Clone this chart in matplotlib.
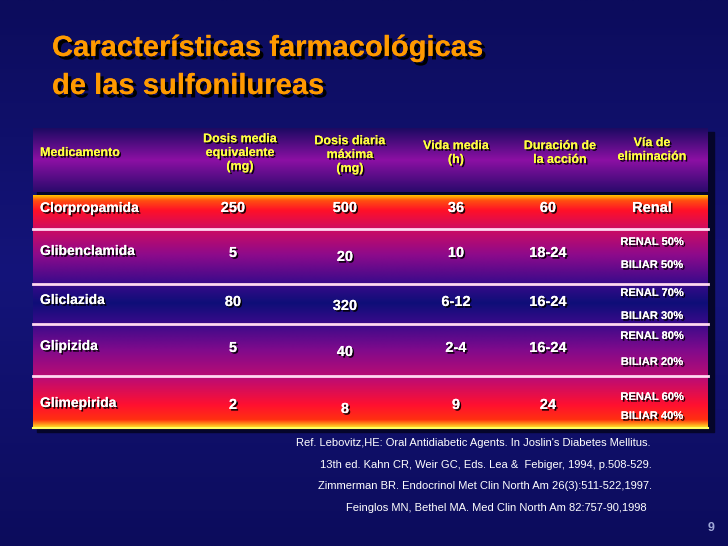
import numpy as np
import matplotlib
matplotlib.use("Agg")
import matplotlib.pyplot as plt
import matplotlib.patheffects as pe
from matplotlib.colors import to_rgb

title_lines = ["Características farmacológicas", "de las sulfonilureas"]
headers = ["Medicamento", "Dosis media\nequivalente\n(mg)", "Dosis diaria\nmáxima\n(mg)",
           "Vida media\n(h)", "Duración de\nla acción", "Vía de\neliminación"]
drugs = ["Clorpropamida", "Glibenclamida", "Gliclazida", "Glipizida", "Glimepirida"]
dose_equiv = ["250", "5", "80", "5", "2"]
dose_max = ["500", "20", "320", "40", "8"]
half_life = ["36", "10", "6-12", "2-4", "9"]
duration = ["60", "18-24", "16-24", "16-24", "24"]
elim_renal = ["Renal", "RENAL 50%", "RENAL 70%", "RENAL 80%", "RENAL 60%"]
elim_biliar = ["", "BILIAR 50%", "BILIAR 30%", "BILIAR 20%", "BILIAR 40%"]
refs = ["Ref. Lebovitz,HE: Oral Antidiabetic Agents. In Joslin's Diabetes Mellitus.",
        "13th ed. Kahn CR, Weir GC, Eds. Lea &  Febiger, 1994, p.508-529.",
        "Zimmerman BR. Endocrinol Met Clin North Am 26(3):511-522,1997.",
        "Feinglos MN, Bethel MA. Med Clin North Am 82:757-90,1998"]

W, H = 728, 546
fig = plt.figure(figsize=(W/100, H/100), dpi=100)
ax = fig.add_axes([0, 0, 1, 1])
ax.set_xlim(0, W); ax.set_ylim(H, 0); ax.axis("off")

def vgrad(stops, x0, x1, y0, y1, z=0):
    ys = np.linspace(y0, y1, 300)
    pos = np.array([s[0] for s in stops]); cols = np.array([to_rgb(s[1]) for s in stops])
    img = np.stack([np.interp(ys, pos, cols[:, k]) for k in range(3)], axis=1)
    img = np.repeat(img[:, None, :], 2, axis=1)
    ax.imshow(img, extent=(x0, x1, y1, y0), aspect="auto", zorder=z, interpolation="bilinear")

vgrad([(0, "#0c0c5c"), (273, "#14147a"), (546, "#0c0c5c")], 0, W, 0, H, z=0)

ax.add_patch(plt.Rectangle((37, 132), 677, 300, color="#05052a", zorder=1))
vgrad([(128, "#1c0a62"), (160, "#8c10a4"), (192, "#2a0a6c")], 33, 708, 128, 192, z=2)
vgrad([(195, "#ffc000"), (200, "#ff5010"), (210, "#ff1028"), (228, "#d00c60"),
       (255, "#8c0a8c"), (283, "#3a0a8a"), (303, "#0e0e78"), (324, "#3a0a8a"),
       (350, "#800a8c"), (380, "#c00c70"), (405, "#ff1030"), (420, "#ff3010"),
       (427, "#ffd020")], 33, 708, 195, 428, z=2)
for yy in [229, 284, 324, 376]:
    ax.plot([33, 708], [yy, yy], color="#ffd8f0", lw=2, zorder=3)
ax.plot([33, 708], [428, 428], color="#ffff60", lw=1.5, zorder=3)

sh = [pe.withSimplePatchShadow(offset=(1.2, -1.2), shadow_rgbFace="black", alpha=0.9), pe.Normal()]
font = "Liberation Sans"

for i, t in enumerate(title_lines):
    ax.text(52, 48 + i*38, t, color="#ff9a00", fontsize=21, fontweight="bold",
            family=font, va="center", ha="left", zorder=5,
            path_effects=[pe.withSimplePatchShadow(offset=(2.5, -2.5), shadow_rgbFace="black", alpha=1), pe.Normal()])

hx = [40, 240, 350, 456, 560, 652]
hy = [153, 153, 155, 153, 153, 150]
for i, h in enumerate(headers):
    ax.text(hx[i], hy[i], h, color="#ffff40", fontsize=9, fontweight="bold", family=font,
            ha="left" if i == 0 else "center", va="center", linespacing=1.2, zorder=5, path_effects=sh)

rows_y = [208, 253, 302, 348, 405]
cols_x = [233, 345, 456, 548]
for r in range(len(drugs)):
    y = rows_y[r]
    ax.text(40, y - (2 if r else 0), drugs[r], color="white", fontsize=10, fontweight="bold", family=font,
            va="center", ha="left", zorder=5, path_effects=sh)
    vals = [dose_equiv[r], dose_max[r], half_life[r], duration[r]]
    for c, v in enumerate(vals):
        dy = 4 if (c == 1 and r > 0) else 0
        ax.text(cols_x[c], y + dy, v, color="white", fontsize=10.5, fontweight="bold", family=font,
                va="center", ha="center", zorder=5, path_effects=sh)
    if elim_biliar[r]:
        off = [0, -11, -9, -12, -8][r]
        off2 = [0, 12, 14, 14, 11][r]
        ax.text(652, y + off, elim_renal[r], color="white", fontsize=8, fontweight="bold", family=font,
                va="center", ha="center", zorder=5, path_effects=sh)
        ax.text(652, y + off2, elim_biliar[r], color="white", fontsize=8, fontweight="bold", family=font,
                va="center", ha="center", zorder=5, path_effects=sh)
    else:
        ax.text(652, y, elim_renal[r], color="white", fontsize=10.5, fontweight="bold", family=font,
                va="center", ha="center", zorder=5, path_effects=sh)

ref_x = [473, 486, 485, 496]
ref_y = [443, 465, 486, 508]
for t, x, y in zip(refs, ref_x, ref_y):
    ax.text(x, y, t, color="white", fontsize=8, family=font, ha="center", va="center", zorder=5)

ax.text(711, 528, "9", color="#a0a8d8", fontsize=9, fontweight="bold", family=font, ha="center", va="center")

fig.savefig("out.png", dpi=100)
